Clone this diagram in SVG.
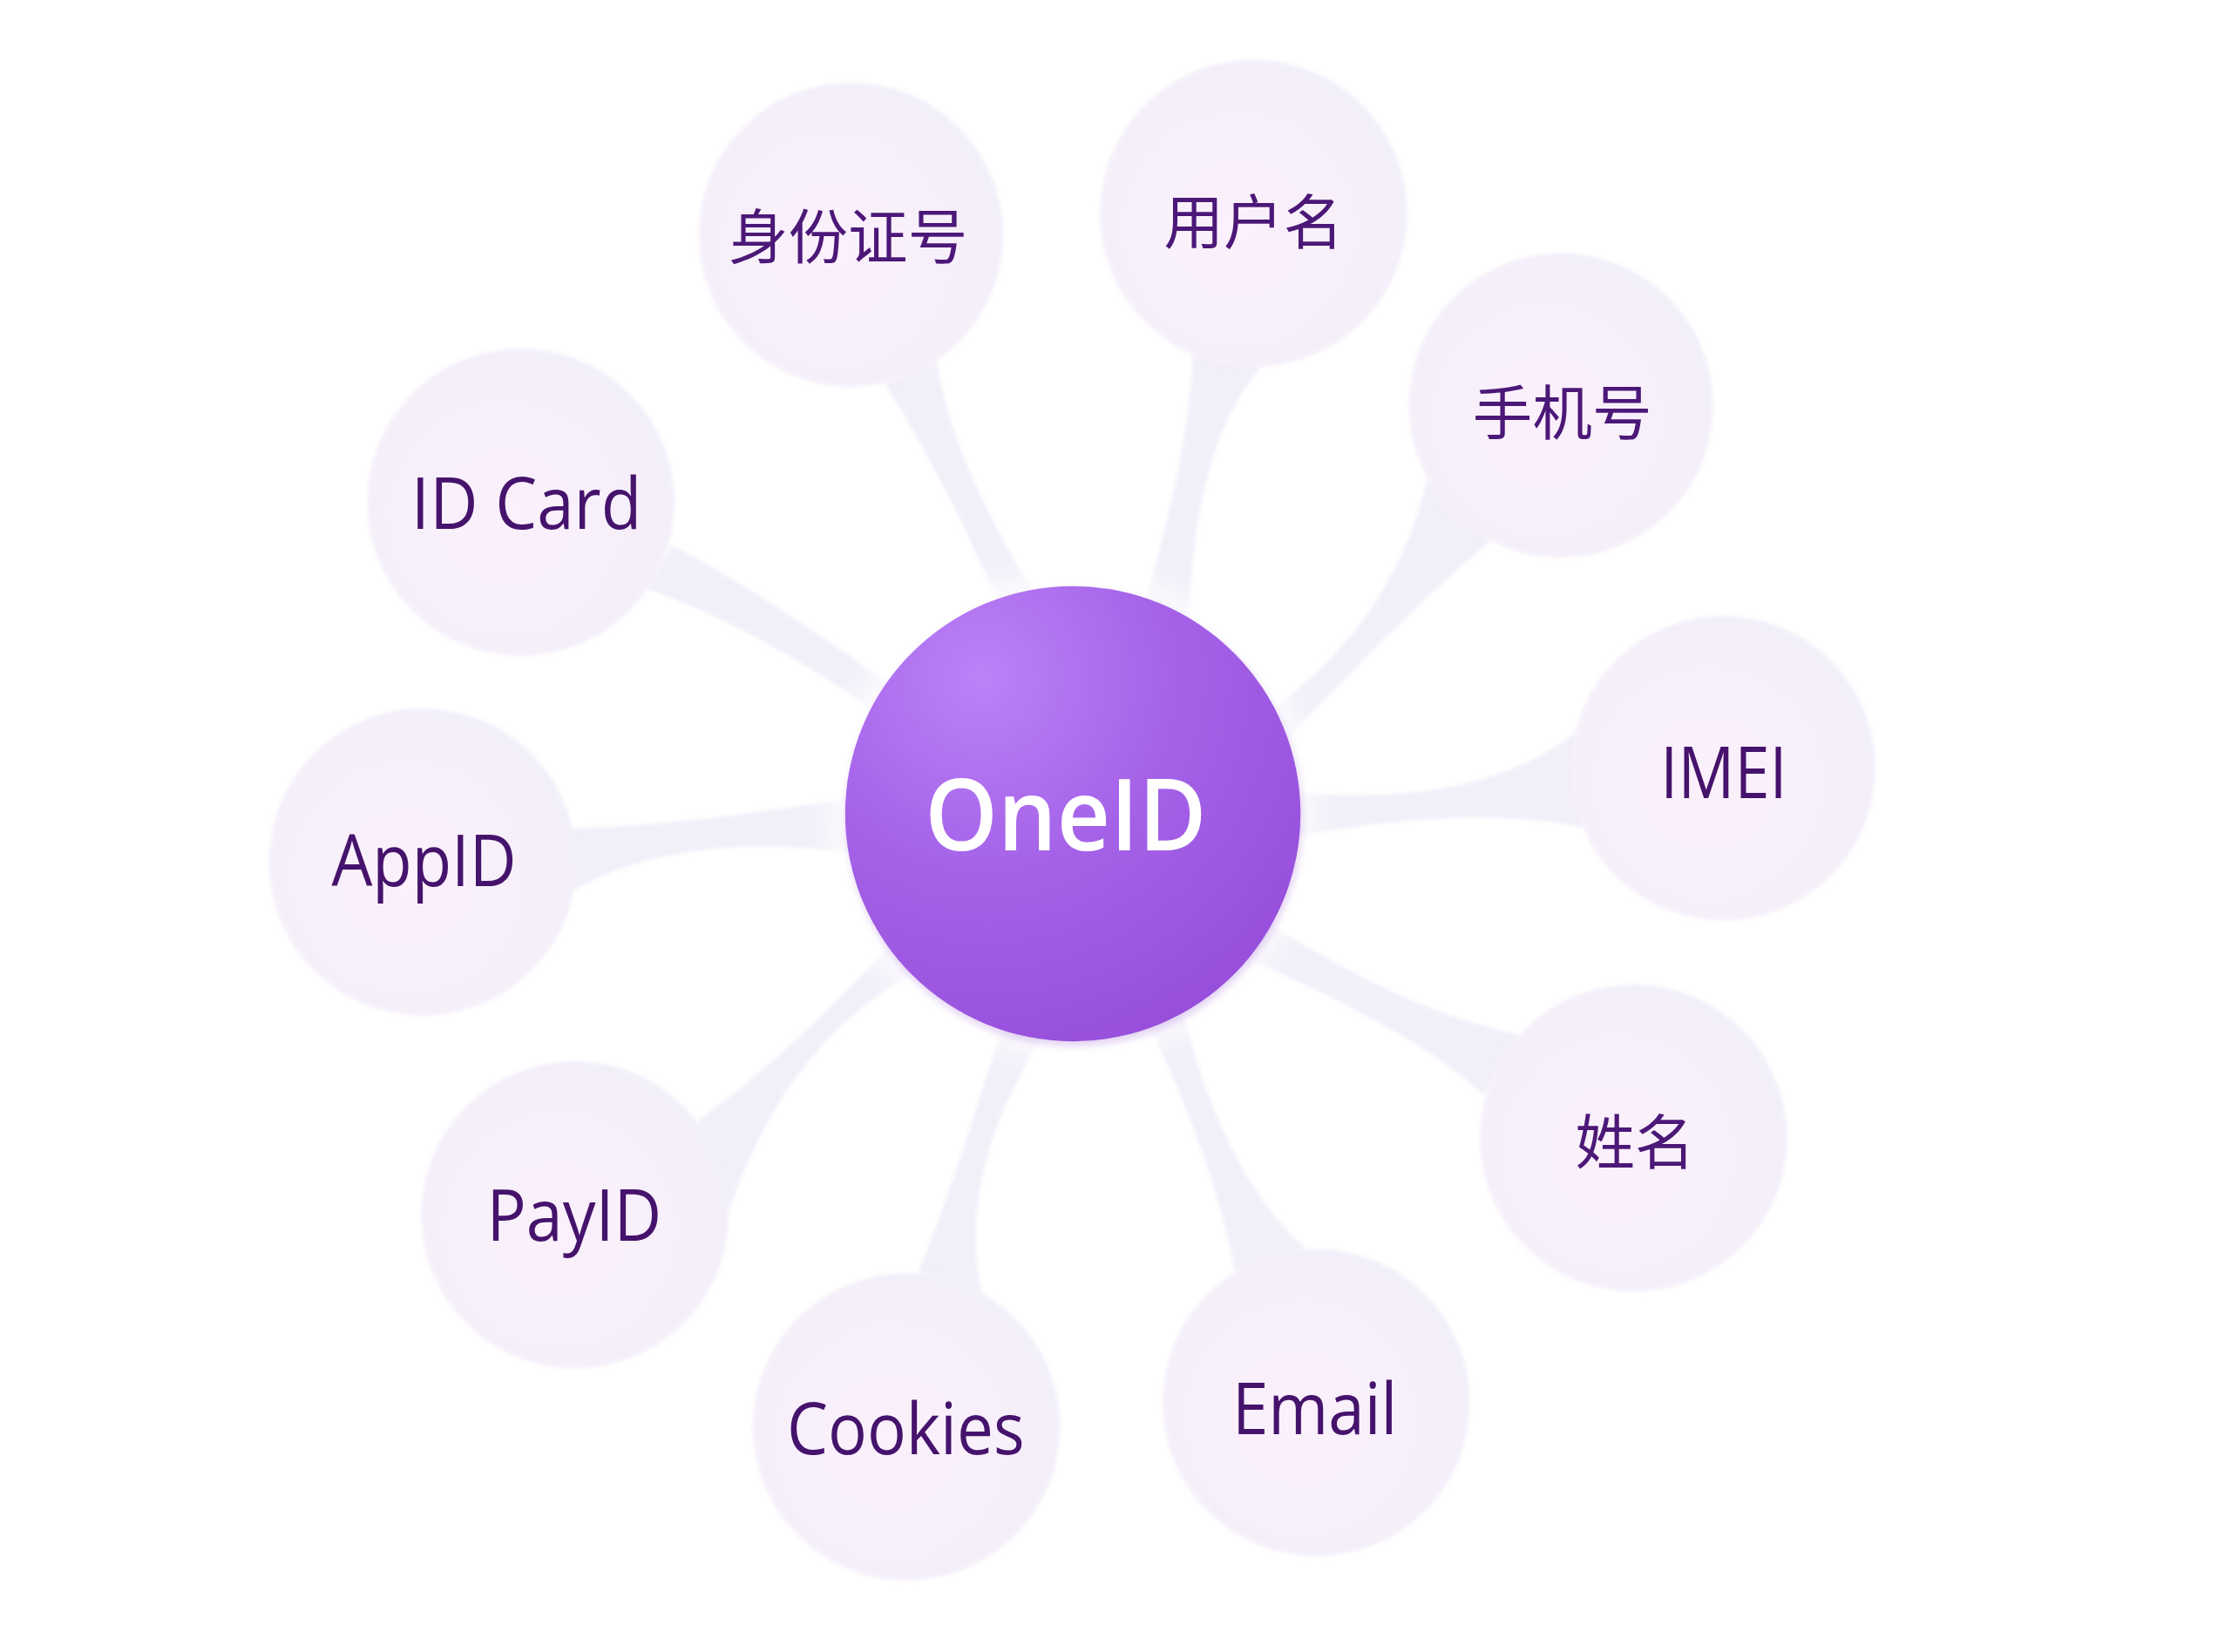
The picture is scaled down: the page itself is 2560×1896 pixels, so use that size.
<svg xmlns="http://www.w3.org/2000/svg" width="2560" height="1896" viewBox="0 0 2560 1896">
  <defs>
    <radialGradient id="bubbleFill" cx="0.45" cy="0.55" r="0.6">
      <stop offset="0" stop-color="#fbf0fb"/>
      <stop offset="0.6" stop-color="#f7f0fa"/>
      <stop offset="1" stop-color="#f2eff9"/>
    </radialGradient>
    <radialGradient id="coreFill" cx="0.3" cy="0.2" r="0.95" fx="0.3" fy="0.2">
      <stop offset="0" stop-color="#bb82f8"/>
      <stop offset="0.45" stop-color="#a562e8"/>
      <stop offset="1" stop-color="#944bd9"/>
    </radialGradient>
    <filter id="soft" x="-10%" y="-10%" width="120%" height="120%">
      <feGaussianBlur stdDeviation="1.2"/>
    </filter>
    <filter id="halo" x="-30%" y="-30%" width="160%" height="160%">
      <feGaussianBlur stdDeviation="9"/>
    </filter>
    <filter id="coreShadow" x="-20%" y="-20%" width="140%" height="140%">
      <feGaussianBlur stdDeviation="3"/>
    </filter>
    <style>
      .stem { fill: #f2eff9; }
      .bubble { fill: url(#bubbleFill); }
      .lat { font-family: "Open Sans", "Liberation Sans", sans-serif; font-size: 50px; fill: #45136c; text-anchor: middle; }
      .cjk { font-family: "Noto Sans CJK SC", "Noto Sans", sans-serif; font-size: 42px; fill: #4c1878; text-anchor: middle; dominant-baseline: central; }
      .core { font-family: "Open Sans", "Liberation Sans", sans-serif; font-size: 70px; font-weight: 600; fill: #ffffff; text-anchor: middle; }
    </style>
  </defs>
  <rect width="2560" height="1896" fill="#ffffff"/>
  <g transform="scale(1.6327)">
    <g id="connectors" filter="url(#soft)">
      <path class="stem" d="M622,270 Q660.5,330 705,430 L732,425 Q671,330.5 658,254 Z"/>
      <path class="stem" d="M838,249 Q837,315.5 800,440 L835,445 Q839,308.5 887,258 Z"/>
      <path class="stem" d="M1003,336 Q980,439.5 885,505 L900,525 Q990,427.5 1048,380 Z"/>
      <path class="stem" d="M1107,515 Q1036.5,570.5 900,556 L900,590 Q1034,564 1112,582 Z"/>
      <path class="stem" d="M1068,727 Q991,712.5 890,648 L872,672 Q992.5,723 1043,770 Z"/>
      <path class="stem" d="M868,894 Q853.5,815.5 805,715 L830,705 Q858,824.5 918,878 Z"/>
      <path class="stem" d="M645,895 Q665,848.5 705,720 L735,725 Q671.5,823 690,909 Z"/>
      <path class="stem" d="M490,788 Q551,745 628,662 L645,682 Q551.5,733 512,852 Z"/>
      <path class="stem" d="M402,582 Q476.5,581 605,560 L605,600 Q476,583 403,626 Z"/>
      <path class="stem" d="M472,383 Q545,422 630,485 L618,502 Q533.5,442 455,414 Z"/>
    </g>

    <g id="node-idnumber">
      <circle class="bubble" cx="598" cy="165" r="107" filter="url(#soft)"/>
      <text class="cjk" x="596" y="163.5">身份证号</text>
    </g>
    <g id="node-username">
      <circle class="bubble" cx="881" cy="150" r="108" filter="url(#soft)"/>
      <text class="cjk" x="881" y="153">用户名</text>
    </g>
    <g id="node-phone">
      <circle class="bubble" cx="1097" cy="285" r="107" filter="url(#soft)"/>
      <text class="cjk" x="1098" y="287.5">手机号</text>
    </g>
    <g id="node-imei">
      <circle class="bubble" cx="1211" cy="540" r="107" filter="url(#soft)"/>
      <text class="lat" x="1211.5" y="561" textLength="89" lengthAdjust="spacingAndGlyphs">IMEI</text>
    </g>
    <g id="node-name">
      <circle class="bubble" cx="1148" cy="800" r="108" filter="url(#soft)"/>
      <text class="cjk" x="1149" y="800">姓名</text>
    </g>
    <g id="node-email">
      <circle class="bubble" cx="925" cy="986" r="108" filter="url(#soft)"/>
      <text class="lat" x="924" y="1008" textLength="116" lengthAdjust="spacingAndGlyphs">Email</text>
    </g>
    <g id="node-cookies">
      <circle class="bubble" cx="637" cy="1003" r="108" filter="url(#soft)"/>
      <text class="lat" x="636.5" y="1022" textLength="167" lengthAdjust="spacingAndGlyphs">Cookies</text>
    </g>
    <g id="node-payid">
      <circle class="bubble" cx="404" cy="854" r="108" filter="url(#soft)"/>
      <text class="lat" x="403.5" y="872" textLength="123" lengthAdjust="spacingAndGlyphs">PayID</text>
    </g>
    <g id="node-appid">
      <circle class="bubble" cx="297" cy="606" r="108" filter="url(#soft)"/>
      <text class="lat" x="298" y="623" textLength="130" lengthAdjust="spacingAndGlyphs">AppID</text>
    </g>
    <g id="node-idcard">
      <circle class="bubble" cx="366" cy="353" r="108" filter="url(#soft)"/>
      <text class="lat" x="370" y="372" textLength="162" lengthAdjust="spacingAndGlyphs">ID Card</text>
    </g>

    <g id="node-oneid">
      <circle cx="754" cy="572" r="172" fill="#ffffff" opacity="0.75" filter="url(#halo)"/>
      <circle cx="755" cy="575" r="160" fill="#8a45cc" opacity="0.25" filter="url(#coreShadow)"/>
      <circle cx="754" cy="572" r="160" fill="url(#coreFill)"/>
      <text class="core" x="749" y="598" textLength="198" lengthAdjust="spacingAndGlyphs">OneID</text>
    </g>
  </g>
</svg>
